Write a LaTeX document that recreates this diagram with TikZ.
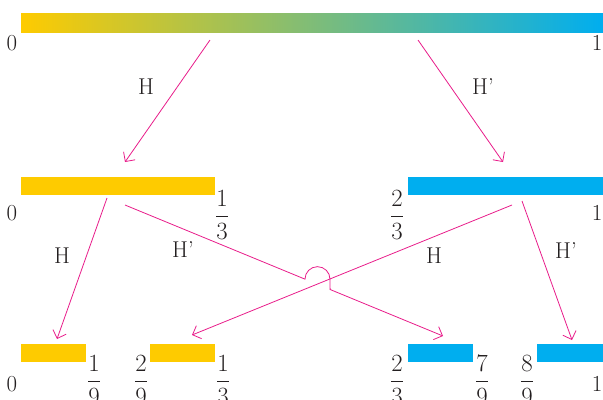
\documentclass[tikz,border=0pt]{standalone}
\usepackage{amsmath}
\usetikzlibrary{arrows.meta,calc}
\definecolor{gold}{RGB}{254,203,0}
\definecolor{sky}{RGB}{0,174,239}
\definecolor{rose}{RGB}{232,28,138}
\definecolor{ink}{RGB}{35,31,32}
\begin{document}
\begin{tikzpicture}[x=1bp,y=-1bp,
  seg/.style={rectangle, inner sep=0pt, outer sep=0pt, minimum height=18bp, anchor=north west},
  lab/.style={inner sep=0pt, text=ink, font=\fontsize{23}{27}\selectfont},
  link/.style={draw=rose, line width=0.8bp, -{Straight Barb[length=7bp,width=14bp,line width=0.8bp]}}]
\useasboundingbox (0,0) rectangle (603,399);

% the unit interval and its images
\node[seg, minimum height=19bp, minimum width=582bp, left color=gold, right color=sky] (top) at (21,13) {};
\node[seg, fill=gold, minimum width=194bp] (mA) at (21,177) {};
\node[seg, fill=sky, minimum width=195bp] (mB) at (408,177) {};
\node[seg, fill=gold, minimum width=65bp] (bA) at (21,344) {};
\node[seg, fill=gold, minimum width=65bp] (bB) at (150,344) {};
\node[seg, fill=sky, minimum width=65bp] (bC) at (408,344) {};
\node[seg, fill=sky, minimum width=66bp] (bD) at (537,344) {};

% end point labels
\node[lab] (t0) at (12,43) {0};
\node[lab] (t1) at (597,43) {1};
\node[lab] (m0) at (12,213) {0};
\node[lab] (m13) at (222,215) {$\dfrac{1}{3}$};
\node[lab] (m23) at (397,215) {$\dfrac{2}{3}$};
\node[lab] (m1) at (597,213) {1};
\node[lab] (b0) at (12,384) {0};
\node[lab] (b19) at (94,380) {$\dfrac{1}{9}$};
\node[lab] (b29) at (141,380) {$\dfrac{2}{9}$};
\node[lab] (b13) at (223,380) {$\dfrac{1}{3}$};
\node[lab] (b23) at (397,380) {$\dfrac{2}{3}$};
\node[lab] (b79) at (482,380) {$\dfrac{7}{9}$};
\node[lab] (b89) at (527,380) {$\dfrac{8}{9}$};
\node[lab] (b1) at (597,384) {1};

% arrow ends
\coordinate (sTA) at ($(top.south west)+(189,8)$);
\coordinate (sTB) at ($(top.south west)+(397,8)$);
\coordinate (eMA) at ($(mA.north west)+(104,-15)$);
\coordinate (eMB) at ($(mB.north west)+(95,-15)$);
\coordinate (sAH) at ($(mA.south west)+(86,3)$);
\coordinate (sAK) at ($(mA.south west)+(104,10)$);
\coordinate (sBH) at ($(mB.south west)+(104,10)$);
\coordinate (sBK) at ($(mB.south west)+(114,6)$);
\coordinate (eBA) at ($(bA.north west)+(36,-5)$);
\coordinate (eBB) at ($(bB.north west)+(42,-9)$);
\coordinate (eBC) at ($(bC.north west)+(35,-8)$);
\coordinate (eBD) at ($(bD.north west)+(35,-4)$);

% first level maps
\draw[link] (sTA) -- (eMA);
\draw[link] (sTB) -- (eMB);
\node[lab] (hA) at (146,87) {H};
\node[lab] (kA) at (483,87) {H'};

% second level maps, the H' branch hops over the crossing
\draw[link] (sAH) -- (eBA);
\draw[link] (sBH) -- (eBB);
\draw[link] (sAK) -- ($(sAK)!0.566!(eBC)$) arc[start angle=180, end angle=360, radius=12.5]
  -- ($(sAK)!0.645!(eBC)$) -- (eBC);
\draw[link] (sBK) -- (eBD);
\node[lab] (hB) at (62,256) {H};
\node[lab] (kB) at (183,250) {H'};
\node[lab] (hC) at (434,256) {H};
\node[lab] (kC) at (566,251) {H'};
\end{tikzpicture}
\end{document}
